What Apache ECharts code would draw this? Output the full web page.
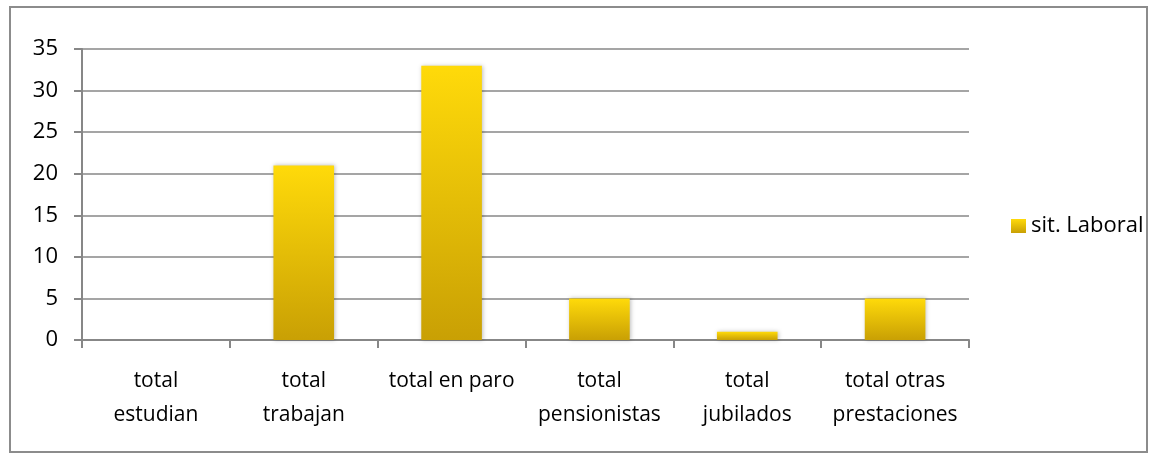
<!DOCTYPE html>
<html>
<head>
<meta charset="utf-8">
<script src="https://cdn.jsdelivr.net/npm/echarts@6/dist/echarts.min.js"></script>
<style>
  html, body { margin: 0; padding: 0; background: #fff; }
  #frame {
    position: absolute; left: 9px; top: 6px; width: 1139px; height: 447px;
    border: 2px solid #8c8c8c; box-sizing: border-box;
  }
  #chart { position: absolute; left: 0; top: 0; width: 1160px; height: 462px; }
</style>
</head>
<body>
<div id="frame"></div>
<div id="chart"></div>
<script>
// categorias y valores
const categories = [
  "total\nestudian",
  "total\ntrabajan",
  "total en paro",
  "total\npensionistas",
  "total\njubilados",
  "total otras\nprestaciones"
];
const values = [0, 21, 33, 5, 1, 5];
const seriesName = "sit. Laboral";

const chart = echarts.init(document.getElementById("chart"));
const font = "Open Sans";
const gray = "#878787";

chart.setOption({
  animation: false,
  textStyle: { fontFamily: font },
  grid: { left: 82, right: 191, top: 49, bottom: 122, containLabel: false },
  legend: {
    data: [{ name: seriesName, icon: "rect" }],
    orient: "vertical",
    left: 1006,
    top: 210,
    itemWidth: 15,
    itemHeight: 14,
    itemGap: 6,
    textStyle: { fontSize: 22, color: "#000", fontFamily: font }
  },
  xAxis: {
    type: "category",
    data: categories,
    axisLine: { lineStyle: { color: gray, width: 2 } },
    axisTick: { show: true, length: 8, lineStyle: { color: gray, width: 2 } },
    axisLabel: {
      interval: 0,
      fontSize: 21,
      fontFamily: font,
      color: "#000",
      lineHeight: 34,
      margin: 24
    }
  },
  yAxis: {
    type: "value",
    min: 0,
    max: 35,
    interval: 5,
    axisLine: { show: true, lineStyle: { color: gray, width: 2 } },
    axisTick: { show: true, length: 8, lineStyle: { color: gray, width: 2 } },
    splitLine: { lineStyle: { color: gray, width: 1.5 } },
    axisLabel: { fontSize: 22, fontFamily: font, color: "#000", margin: 24 }
  },
  series: [{
    name: seriesName,
    type: "bar",
    data: values,
    barWidth: "41%",
    itemStyle: {
      color: new echarts.graphic.LinearGradient(0, 0, 0, 1, [
        { offset: 0, color: "#FFDA0A" },
        { offset: 1, color: "#C9A004" }
      ]),
      shadowColor: "rgba(0,0,0,0.25)",
      shadowBlur: 4,
      shadowOffsetX: 1
    }
  }]
});
</script>
</body>
</html>
